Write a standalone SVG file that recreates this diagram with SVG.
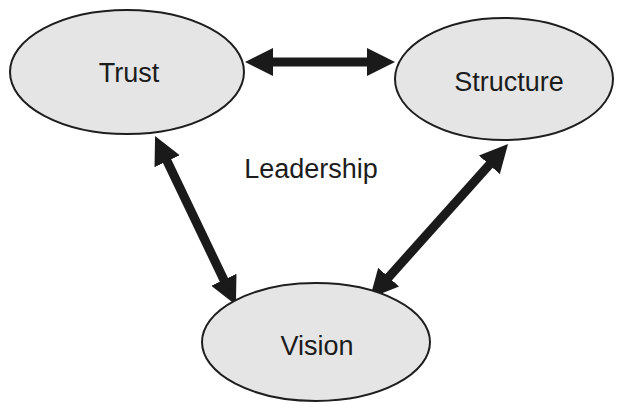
<svg xmlns="http://www.w3.org/2000/svg" width="618" height="404" viewBox="0 0 618 404">
  <style>
    .node ellipse { fill: #e5e5e5; stroke: #1e1e1e; stroke-width: 2; }
    .node text, .label { font-family: "Liberation Sans", Arial, sans-serif; font-size: 27px; fill: #1c1c1c; text-anchor: middle; }
    .link { stroke: #1a1a1a; stroke-width: 9; fill: none; marker-start: url(#head); marker-end: url(#head); }
  </style>
  <defs>
    <marker id="head" markerUnits="userSpaceOnUse" markerWidth="32" markerHeight="32"
            viewBox="0 -16 32 32" refX="5" refY="0" orient="auto-start-reverse">
      <path d="M0,-14 L28,0 L0,14 Z" fill="#1a1a1a"/>
    </marker>
  </defs>
  <rect width="618" height="404" fill="#ffffff"/>

  <g id="connectors">
    <line class="link" x1="268" y1="62" x2="372" y2="62"/>
    <line class="link" x1="165" y1="156.7" x2="226" y2="284.3"/>
    <line class="link" x1="492.7" y1="161.1" x2="385.3" y2="280.9"/>
  </g>

  <g id="trust" class="node">
    <ellipse cx="127" cy="72" rx="117" ry="62"/>
    <text x="129" y="82">Trust</text>
  </g>
  <g id="structure" class="node">
    <ellipse cx="504" cy="79" rx="109" ry="61"/>
    <text x="509" y="91">Structure</text>
  </g>
  <g id="vision" class="node">
    <ellipse cx="316" cy="342" rx="114" ry="59"/>
    <text x="317" y="355">Vision</text>
  </g>

  <text id="leadership" class="label" x="311" y="178">Leadership</text>
</svg>
